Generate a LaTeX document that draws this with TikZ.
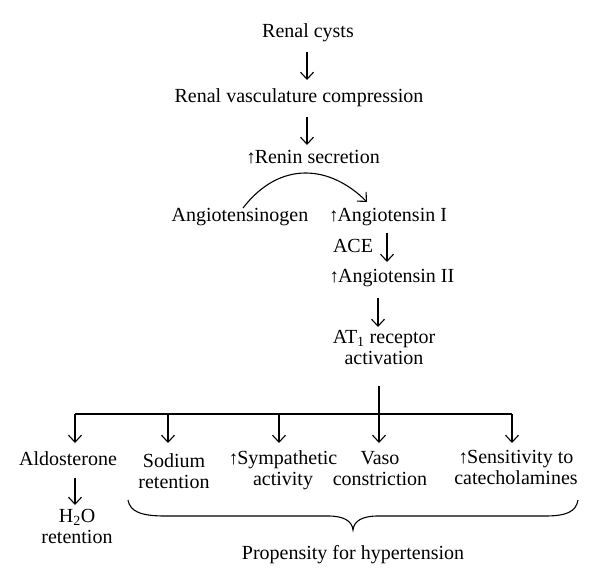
\documentclass[tikz,border=0pt]{standalone}
\usepackage{fontspec}
\setmainfont{Liberation Serif}
\usetikzlibrary{arrows.meta}
\newcommand{\incr}{{\fontsize{19}{19}\selectfont ↑}\kern-1pt}

\begin{document}
\begin{tikzpicture}[x=1pt, y=-1pt,
    txt/.style={anchor=north, inner sep=0pt, align=center, font=\fontsize{20}{21.5}\selectfont},
    flow/.style={line width=1.1pt, -{Straight Barb[length=7pt,width=13pt]}},
    branch/.style={line width=1.1pt}]
    \fill[white] (0,0) rectangle (600,583);
    \useasboundingbox (0,0) rectangle (600,583);
    % Renin cascade
    \node[txt] (cysts)  at (308, 23) {Renal cysts};
    \node[txt] (comp)   at (299, 88) {Renal vasculature compression};
    \node[txt] (renin)  at (313,150) {\incr Renin secretion};
    \node[txt] (agen)   at (240,208) {Angiotensinogen};
    \node[txt] (ang1)   at (388,208) {\incr Angiotensin I};
    \node[txt] (ace)    at (353,239) {ACE};
    \node[txt] (ang2)   at (392,269) {\incr Angiotensin II};
    \node[txt] (at1)    at (384,330) {AT\textsubscript{1} receptor\\activation};
    % Effects
    \node[txt] (aldo)   at ( 68,451) {Aldosterone};
    \node[txt] (sodium) at (174,453) {Sodium\\retention};
    \node[txt] (symp)   at (283,450) {\incr Sympathetic\\activity};
    \node[txt] (vaso)   at (380,451) {Vaso\\constriction};
    \node[txt] (sens)   at (516,450) {\incr Sensitivity to\\catecholamines};
    \node[txt] (water)  at ( 77,509) {H\textsubscript{2}O\\retention};
    \node[txt] (prop)   at (353,545) {Propensity for hypertension};
    % Vertical arrows
    \draw[flow, shorten <=10pt, shorten >=8pt] (cysts.south -| 307,0) -- (comp.north -| 307,0);
    \draw[flow, shorten <=10pt, shorten >=5pt] (comp.south -| 307,0)  -- (renin.north -| 307,0);
    \draw[flow, shorten <=7pt,  shorten >=7pt] (ang1.south -| 387,0)  -- (ang2.north -| 387,0);
    \draw[flow, shorten <=11pt, shorten >=3pt] (ang2.south -| 378,0)  -- (at1.north -| 378,0);
    \draw[flow, shorten <=21pt, shorten >=8pt] (at1.south -| 379,0)   -- (vaso.north -| 379,0);
    \draw[flow, shorten <=13pt, shorten >=4pt] (aldo.south -| 75,0)   -- (water.north -| 75,0);
    % Renin acting on angiotensinogen
    \draw[flow] ([xshift=3pt]agen.north) .. controls +(37,-48) and +(-37,-37) .. ([xshift=-21pt,yshift=6pt]ang1.north);
    % Branching bar
    \coordinate (barL) at (75,414);
    \coordinate (barR) at (512,414);
    \draw[branch] (barL) -- (barR);
    \foreach \n/\x/\s in {aldo/75/8, sodium/168/10, symp/279/7, sens/512/7}
        \draw[flow, shorten >=\s pt] (\x,414) -- (\n.north -| \x,0);
    % Brace over the effects
    \draw[line width=1.1pt] (128,500) .. controls (130,512) and (142,516) .. (165,516)
        -- (328,516) .. controls (344,516) and (352,521) .. (353,530)
        .. controls (354,521) and (362,516) .. (378,516)
        -- (545,516) .. controls (566,516) and (576,512) .. (578,500);
\end{tikzpicture}
\end{document}
